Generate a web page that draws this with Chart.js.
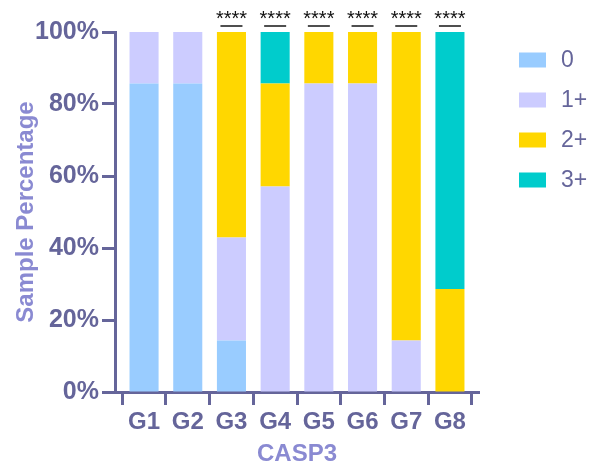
<!DOCTYPE html>
<html>
<head>
<meta charset="utf-8">
<script src="https://cdn.jsdelivr.net/npm/chart.js@4/dist/chart.umd.min.js"></script>
<style>
  html, body { margin: 0; padding: 0; background: #ffffff; }
  #wrap { width: 596px; height: 472px; }
</style>
</head>
<body>
<div id="wrap"><canvas id="c" width="596" height="472"></canvas></div>
<script>
// CASP3 staining score distribution per group (% of samples)
const groups = ['G1', 'G2', 'G3', 'G4', 'G5', 'G6', 'G7', 'G8'];
const score0   = [85.7, 85.7, 14.3, 0,    0,    0,    0,    0];
const score1   = [14.3, 14.3, 28.6, 57.1, 85.7, 85.7, 14.3, 0];
const score2   = [0,    0,    57.1, 28.6, 14.3, 14.3, 85.7, 28.6];
const score3   = [0,    0,    0,    14.3, 0,    0,    0,    71.4];
const seriesNames = ['0', '1+', '2+', '3+'];
const seriesColors = ['#99ccff', '#ccccff', '#ffd700', '#00cccc'];
const significance = ['', '', '****', '****', '****', '****', '****', '****'];
const yTicks = [0, 20, 40, 60, 80, 100];

const axisColor = '#65659a';
const titleColor = '#8a8ad2';
const fontFamily = '"Liberation Sans", Arial, Helvetica, sans-serif';

const seriesValues = [score0, score1, score2, score3];
const datasets = seriesValues.map((vals, s) => ({
  label: seriesNames[s],
  data: vals.map((v, i) => ({ x: i, y: v })),
  backgroundColor: seriesColors[s],
  borderWidth: 0,
  categoryPercentage: 1,
  barPercentage: 0.665
}));

// Significance marks above each bar
const sigPlugin = {
  id: 'sigMarks',
  afterDatasetsDraw(chart) {
    const { ctx, scales } = chart;
    const xs = scales.x, ys = scales.y;
    ctx.save();
    significance.forEach((txt, i) => {
      if (!txt) return;
      const cx = xs.getPixelForValue(i);
      const top = ys.getPixelForValue(100);
      ctx.strokeStyle = '#222222';
      ctx.lineWidth = 1.6;
      ctx.beginPath();
      ctx.moveTo(cx - 11, top - 6);
      ctx.lineTo(cx + 11, top - 6);
      ctx.stroke();
      ctx.fillStyle = '#111111';
      ctx.font = '20px ' + fontFamily;
      ctx.textAlign = 'center';
      ctx.textBaseline = 'alphabetic';
      ctx.fillText(txt, cx, top - 7);
    });
    ctx.restore();
  }
};

// Legend to the right of the plot area
const legendPlugin = {
  id: 'sideLegend',
  afterDraw(chart) {
    const { ctx, chartArea } = chart;
    ctx.save();
    const x0 = chartArea.right + 40;
    chart.data.datasets.forEach((ds, i) => {
      const cy = 60 + i * 40;
      ctx.fillStyle = ds.backgroundColor;
      ctx.fillRect(x0, cy - 7.5, 27, 15);
      ctx.fillStyle = axisColor;
      ctx.font = '23px ' + fontFamily;
      ctx.textAlign = 'left';
      ctx.textBaseline = 'middle';
      ctx.fillText(ds.label, x0 + 42, cy + 1);
    });
    ctx.restore();
  }
};

new Chart(document.getElementById('c'), {
  type: 'bar',
  data: { datasets },
  options: {
    responsive: false,
    animation: false,
    layout: { padding: { top: 32, right: 117, bottom: 0, left: 0 } },
    plugins: {
      legend: { display: false },
      tooltip: { enabled: false }
    },
    scales: {
      x: {
        type: 'linear',
        stacked: true,
        offset: false,
        min: -0.665,
        max: groups.length - 1 + 0.665,
        afterFit(scale) { scale.height = 80; },
        afterBuildTicks(scale) {
          scale.ticks = groups.map((g, i) => ({ value: i }));
        },
        ticks: {
          includeBounds: false,
          stepSize: 1,
          autoSkip: false,
          maxRotation: 0,
          padding: 3,
          color: axisColor,
          font: { family: fontFamily, size: 24, weight: 'bold' },
          callback: (v) => groups[v] ?? ''
        },
        grid: {
          drawOnChartArea: false,
          drawTicks: true,
          tickLength: 13,
          tickWidth: 3,
          tickColor: axisColor
        },
        border: { display: true, color: axisColor, width: 3 },
        title: {
          display: true,
          text: 'CASP3',
          color: titleColor,
          font: { family: fontFamily, size: 24, weight: 'bold' },
          padding: { top: 0, bottom: 3 }
        }
      },
      y: {
        stacked: true,
        min: 0,
        max: 100,
        afterFit(scale) { scale.width = 115; },
        afterBuildTicks(scale) {
          scale.ticks = yTicks.map(v => ({ value: v }));
        },
        ticks: {
          padding: 3,
          color: axisColor,
          font: { family: fontFamily, size: 25, weight: 'bold' },
          callback: (v) => v + '%'
        },
        grid: {
          drawOnChartArea: false,
          drawTicks: true,
          tickLength: 13,
          tickWidth: 3,
          tickColor: axisColor
        },
        border: { display: true, color: axisColor, width: 3 },
        title: {
          display: true,
          text: 'Sample Percentage',
          color: titleColor,
          font: { family: fontFamily, size: 24, weight: 'bold' },
          padding: { top: 12, bottom: 0 }
        }
      }
    }
  },
  plugins: [sigPlugin, legendPlugin]
});
</script>
</body>
</html>
